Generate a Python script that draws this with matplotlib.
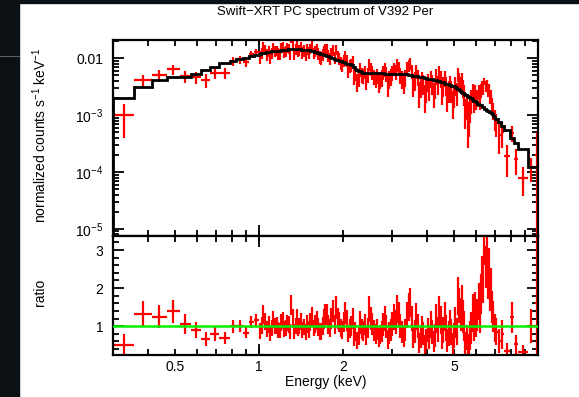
import numpy as np
import matplotlib.pyplot as plt
from matplotlib.patches import Rectangle
from matplotlib.lines import Line2D
from matplotlib.ticker import FixedLocator, NullFormatter, FuncFormatter, MultipleLocator

plt.rcParams['font.family'] = ['Liberation Sans', 'DejaVu Sans']
plt.rcParams['mathtext.fontset'] = 'custom'
plt.rcParams['mathtext.rm'] = 'Liberation Sans'
plt.rcParams['mathtext.it'] = 'Liberation Sans:italic'

# --- energy bin edges (keV) ---
edges_soft = [0.30, 0.357, 0.414, 0.467, 0.52, 0.57, 0.62, 0.67, 0.72, 0.79, 0.83, 0.88, 0.92, 0.96]
edges_mid = [1.000, 1.015, 1.030, 1.045, 1.060, 1.075, 1.090, 1.105, 1.120, 1.135,
             1.150, 1.165, 1.180, 1.195, 1.210, 1.225, 1.240, 1.255, 1.270, 1.285,
             1.300, 1.315, 1.330, 1.345, 1.360, 1.375, 1.390, 1.405, 1.420, 1.440,
             1.460, 1.480, 1.500, 1.520, 1.540, 1.560, 1.580, 1.600, 1.620, 1.640,
             1.660, 1.680, 1.700, 1.720, 1.740, 1.760, 1.780, 1.805, 1.830, 1.855,
             1.880, 1.905, 1.930, 1.955, 1.980, 2.005, 2.030, 2.055, 2.080, 2.105,
             2.130, 2.155, 2.180, 2.205, 2.230, 2.260, 2.290, 2.320, 2.350, 2.380,
             2.410, 2.440, 2.470, 2.500, 2.530, 2.565, 2.600, 2.635, 2.670, 2.705,
             2.740, 2.775, 2.810, 2.845, 2.880, 2.915, 2.950, 2.990, 3.030, 3.070,
             3.110, 3.150, 3.190, 3.235, 3.280, 3.325]
edges_hard = [3.370, 3.415, 3.460, 3.505, 3.550, 3.595, 3.640, 3.685, 3.730, 3.775,
              3.820, 3.865, 3.910, 3.955, 4.000, 4.050, 4.100, 4.150, 4.200, 4.250,
              4.300, 4.350, 4.400, 4.450, 4.500, 4.550, 4.600, 4.650, 4.700, 4.755,
              4.810, 4.865, 4.920, 4.975, 5.030, 5.085, 5.140, 5.195, 5.250, 5.305,
              5.360, 5.415, 5.470, 5.525, 5.580, 5.635, 5.690, 5.745, 5.800, 5.860,
              5.920, 5.980, 6.040, 6.100, 6.160, 6.220, 6.280, 6.340, 6.400, 6.460,
              6.520, 6.580, 6.640, 6.700, 6.760, 6.820, 6.880, 6.950, 7.020, 7.180,
              7.350, 7.550, 7.950, 8.200, 8.450, 9.200, 9.750, 10.150]

# --- folded model, counts s^-1 keV^-1 ---
model_soft = [2.0e-3, 3.1e-3, 4.1e-3, 4.6e-3, 4.6e-3, 5.2e-3, 6.2e-3, 6.9e-3, 8.2e-3, 8.9e-3,
              9.6e-3, 1.02e-2, 1.08e-2, 1.13e-2]
model_mid = [0.0121, 0.0123, 0.0124, 0.0126, 0.0127, 0.0129, 0.0130, 0.0132, 0.0133, 0.0135,
             0.0135, 0.0137, 0.0137, 0.0139, 0.0139, 0.0141, 0.0141, 0.0142, 0.0143, 0.0143,
             0.0144, 0.0144, 0.0144, 0.0144, 0.0144, 0.0144, 0.0143, 0.0143, 0.0142, 0.0141,
             0.0140, 0.0139, 0.0138, 0.0136, 0.0134, 0.0132, 0.0130, 0.0128, 0.0126, 0.0124,
             0.0121, 0.0119, 0.0116, 0.0114, 0.0111, 0.0109, 0.0106, 0.0103, 0.0100, 0.0098,
             0.0095, 0.0093, 0.0091, 0.0089, 0.0087, 0.0085, 0.0083, 0.0081, 0.0080, 0.0078,
             0.0077, 0.0075, 0.0071, 0.0066, 0.0063, 0.0061, 0.0059, 0.0057, 0.0056, 0.0056,
             0.0055, 0.0055, 0.0055, 0.0055, 0.0055, 0.0055, 0.0055, 0.0055, 0.0055, 0.0055,
             0.0055, 0.0055, 0.0054, 0.0054, 0.0054, 0.0054, 0.0054, 0.0054, 0.0053, 0.0053,
             0.0053, 0.0053, 0.0052, 0.0052, 0.0052, 0.0052]
model_hard = [0.0052, 0.0051, 0.0050, 0.0050, 0.0049, 0.0049, 0.0048, 0.0048, 0.0047, 0.0047,
              0.0046, 0.0046, 0.0045, 0.0045, 0.0044, 0.0044, 0.0043, 0.0043, 0.0042, 0.0042,
              0.0041, 0.0040, 0.0040, 0.0039, 0.0038, 0.0038, 0.0037, 0.0036, 0.0035, 0.0035,
              0.0034, 0.0033, 0.0032, 0.0032, 0.0031, 0.0030, 0.0029, 0.0028, 0.0027, 0.0026,
              0.0025, 0.0024, 0.0023, 0.0023, 0.0022, 0.0021, 0.0020, 0.0020, 0.0019, 0.0018,
              0.0018, 0.0017, 0.0016, 0.0016, 0.0015, 0.0015, 0.0014, 0.0014, 0.0013, 0.0013,
              0.00125, 0.0012, 0.00117, 0.00113, 0.00108, 0.00103, 0.00098, 0.00093,
              0.00085, 0.00075, 0.00065, 0.00054, 0.00040, 0.00033, 0.00025, 0.000123, 0.000123]

# --- data / model ratio ---
ratio_soft = [0.50, 1.32, 1.25, 1.39, 1.05, 0.90, 0.66, 0.80, 0.68, 1.00, 1.00, 0.83, 1.10, 1.15]
ratio_mid = [0.88, 1.02, 1.30, 1.12, 0.92, 1.05, 0.80, 0.95, 1.18, 1.00,
             1.02, 0.90, 0.88, 1.10, 1.15, 0.92, 0.95, 1.08, 1.05, 0.86,
             1.55, 1.20, 0.85, 1.00, 1.20, 0.95, 1.00, 1.12, 0.90, 0.98,
             0.85, 1.05, 0.92, 1.10, 1.25, 0.95, 1.05, 1.15, 0.98, 0.85,
             0.85, 1.00, 1.18, 1.30, 1.30, 1.05, 0.95, 1.20, 1.40, 1.05,
             1.50, 1.20, 1.10, 0.95, 0.90, 1.10, 1.35, 1.15, 0.80, 0.95,
             1.00, 1.20, 0.70, 0.85, 0.62, 0.75, 1.10, 0.92, 0.88, 1.05,
             0.75, 0.95, 1.45, 1.20, 1.05, 0.88, 0.80, 0.92, 0.70, 0.78,
             0.85, 1.05, 1.20, 1.00, 0.65, 0.82, 0.90, 1.05, 1.25, 1.10,
             1.45, 1.30, 1.00, 0.85, 0.72, 0.90]
ratio_hard = [1.30, 1.50, 1.62, 1.20, 0.70, 0.85, 1.25, 1.00, 0.55, 0.72,
              0.95, 0.80, 0.50, 0.65, 0.90, 0.70, 1.05, 0.85, 0.60, 0.75,
              1.20, 0.90, 1.40, 1.15, 0.70, 0.90, 1.25, 0.95, 0.62, 0.80,
              1.05, 0.85, 0.55, 0.75, 1.10, 0.85, 1.80, 1.55, 1.30, 1.60,
              1.25, 1.00, 0.55, 0.70, 0.40, 0.50, 0.75, 0.95, 1.35, 1.05,
              1.45, 1.10, 1.30, 1.65, 1.25, 1.85, 2.30, 2.10, 3.00, 2.55,
              2.85, 2.20, 2.50, 1.85, 2.05, 1.50, 1.25, 0.95,
              0.85, 0.60, 0.78, 0.35, 1.23, 0.52, 0.32, 1.00, 1.60]

ratio_err_soft = [0.30, 0.33, 0.30, 0.30, 0.26, 0.22, 0.18, 0.18, 0.16, 0.17, 0.16, 0.15, 0.16, 0.16]
ratio_err_mid = [0.21, 0.22, 0.25, 0.23, 0.21, 0.22, 0.20, 0.21, 0.23, 0.21,
                 0.22, 0.21, 0.20, 0.22, 0.23, 0.21, 0.21, 0.22, 0.22, 0.20,
                 0.27, 0.24, 0.20, 0.22, 0.24, 0.21, 0.22, 0.23, 0.21, 0.22,
                 0.21, 0.23, 0.22, 0.24, 0.26, 0.22, 0.24, 0.25, 0.23, 0.22,
                 0.22, 0.24, 0.26, 0.28, 0.28, 0.25, 0.24, 0.27, 0.29, 0.25,
                 0.30, 0.27, 0.26, 0.24, 0.24, 0.26, 0.29, 0.27, 0.23, 0.25,
                 0.26, 0.28, 0.23, 0.25, 0.22, 0.24, 0.30, 0.27, 0.26, 0.28,
                 0.25, 0.27, 0.34, 0.31, 0.29, 0.27, 0.26, 0.28, 0.25, 0.26,
                 0.28, 0.30, 0.32, 0.30, 0.26, 0.28, 0.29, 0.31, 0.34, 0.32,
                 0.36, 0.34, 0.31, 0.29, 0.27, 0.30]
ratio_err_hard = [0.34, 0.36, 0.38, 0.33, 0.27, 0.30, 0.35, 0.32, 0.26, 0.29,
                  0.32, 0.30, 0.26, 0.28, 0.32, 0.29, 0.35, 0.32, 0.28, 0.30,
                  0.38, 0.33, 0.40, 0.37, 0.30, 0.34, 0.39, 0.35, 0.30, 0.33,
                  0.38, 0.35, 0.28, 0.33, 0.40, 0.36, 0.50, 0.46, 0.43, 0.48,
                  0.44, 0.40, 0.30, 0.34, 0.28, 0.30, 0.38, 0.42, 0.50, 0.45,
                  0.45, 0.38, 0.42, 0.48, 0.42, 0.52, 0.55, 0.50, 0.40, 0.55,
                  0.50, 0.48, 0.55, 0.45, 0.48, 0.42, 0.40, 0.38,
                  0.36, 0.32, 0.38, 0.20, 0.40, 0.25, 0.17, 0.45, 2.50]

edges = np.array(edges_soft + edges_mid + edges_hard)
model = np.array(model_soft + model_mid + model_hard)
ratio = np.array(ratio_soft + ratio_mid + ratio_hard)
ratio_err = np.array(ratio_err_soft + ratio_err_mid + ratio_err_hard)

lo, hi = edges[:-1], edges[1:]
centers = np.sqrt(lo * hi)
flux = ratio * model
flux_err = ratio_err * model
xerr = [centers - lo, hi - centers]

W, H = 579, 397
fig = plt.figure(figsize=(W / 100, H / 100), dpi=100)
fig.patches.append(Rectangle((0, 0), 19 / W, 1, transform=fig.transFigure,
                             color='#0b1014', zorder=-5))
fig.patches.append(Rectangle((0, 1 - 3 / H), 1, 3 / H, transform=fig.transFigure,
                             color='#0b1014', zorder=-5))
fig.add_artist(Line2D([0, 19 / W], [1 - 56 / H, 1 - 56 / H], color='#5a5f63', lw=0.8))

left, width = 113 / W, 425 / W
ax1 = fig.add_axes([left, 1 - 236 / H, width, 196 / H])
ax2 = fig.add_axes([left, 1 - 355 / H, width, 119 / H], sharex=ax1)

# spectrum panel
ax1.errorbar(centers, flux, xerr=xerr,
             yerr=[np.minimum(flux_err, flux * 0.9999), flux_err],
             fmt='none', ecolor='red', elinewidth=1.6, capsize=0, zorder=2)
ax1.stairs(model, edges, color='black', lw=2, zorder=3)
ax1.set_yscale('log')
ax1.set_ylim(7.5e-6, 0.021)

# ratio panel
ax2.errorbar(centers, ratio, xerr=xerr, yerr=ratio_err,
             fmt='none', ecolor='red', elinewidth=1.6, capsize=0, zorder=2)
ax2.axhline(1.0, color='#00ee00', lw=1.8, zorder=3)
ax2.set_ylim(0.24, 3.37)

ax1.set_xscale('log')
ax1.set_xlim(0.3, 10)

minor_x = [0.4, 0.5, 0.6, 0.7, 0.8, 0.9, 1, 2, 3, 4, 5, 6, 7, 8, 9]
for ax in (ax1, ax2):
    ax.xaxis.set_major_locator(FixedLocator([1, 10]))
    ax.xaxis.set_minor_locator(FixedLocator(minor_x))
    ax.xaxis.remove_overlapping_locs = False
    ax.tick_params(which='both', direction='in', top=True, right=True,
                   width=1.3, labelsize=10, colors='black')
    ax.tick_params(which='major', length=8)
    ax.tick_params(which='minor', length=4)
    ax.tick_params(axis='y', pad=7)
    ax.tick_params(axis='x', pad=5)
    for s in ax.spines.values():
        s.set_linewidth(1.6)

ax1.tick_params(axis='x', which='both', labelbottom=False)
ax1.yaxis.set_major_locator(FixedLocator([1e-5, 1e-4, 1e-3, 1e-2]))
ylabels = {1e-5: r'$10^{-5}$', 1e-4: r'$10^{-4}$', 1e-3: r'$10^{-3}$', 1e-2: '0.01'}
ax1.yaxis.set_major_formatter(FuncFormatter(lambda v, p: ylabels.get(v, '')))
ax1.yaxis.set_minor_formatter(NullFormatter())

# x labels ride on the minor ticks so they all share one baseline
ax2.xaxis.set_major_formatter(NullFormatter())
shown = {0.5: '0.5', 1: '1', 2: '2', 5: '5'}
ax2.xaxis.set_minor_formatter(FuncFormatter(
    lambda v, p: next((t for k, t in shown.items() if abs(v - k) < 1e-6), '')))
ax2.yaxis.set_major_locator(FixedLocator([1, 2, 3]))
ax2.yaxis.set_major_formatter(FuncFormatter(lambda v, p: '%d' % v))
ax2.yaxis.set_minor_locator(MultipleLocator(0.2))

fig.text(325.5 / W, 1 - 12 / H, 'Swift\u2212XRT PC spectrum of V392 Per',
         ha='center', va='center', fontsize=9.5)
fig.text(40 / W, 1 - 135 / H, r'normalized counts s$^{-1}$ keV$^{-1}$',
         rotation=90, ha='center', va='center', fontsize=10)
fig.text(40 / W, 1 - 292 / H, 'ratio', rotation=90, ha='center', va='center', fontsize=10)
fig.text(325.5 / W, 1 - 382 / H, 'Energy (keV)', ha='center', va='center', fontsize=10)

fig.savefig('out.png', dpi=100)
